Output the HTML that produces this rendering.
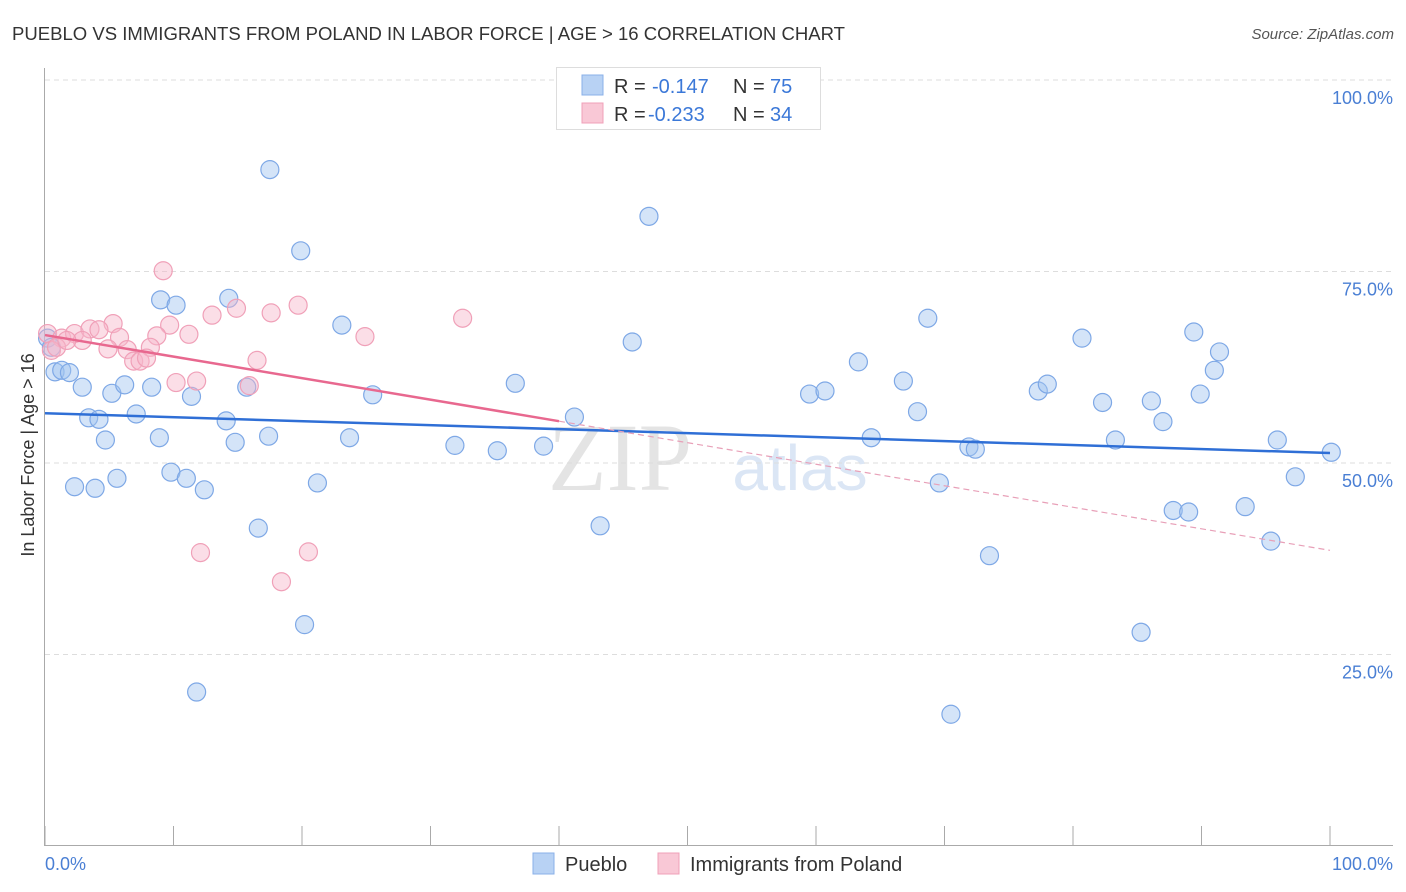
<!DOCTYPE html>
<html><head><meta charset="utf-8"><style>
body{margin:0;background:#fff;font-family:"Liberation Sans",sans-serif}
svg{display:block}
</style></head><body>
<svg id="c" width="1406" height="892" xmlns="http://www.w3.org/2000/svg">
<text x="12" y="40" font-size="18" fill="#333" textLength="833" lengthAdjust="spacingAndGlyphs">PUEBLO VS IMMIGRANTS FROM POLAND IN LABOR FORCE | AGE &gt; 16 CORRELATION CHART</text>
<text x="1394" y="39" font-size="15" fill="#555" text-anchor="end" font-style="italic">Source: ZipAtlas.com</text>
<text x="620" y="490" font-size="96" fill="#e4e4e4" font-family="Liberation Serif,serif" text-anchor="middle">ZIP</text>
<text x="800" y="490" font-size="64" fill="#dbe6f5" text-anchor="middle">atlas</text>
<g id="grid"></g><g id="axes"></g><g id="pts"></g><g id="trend"></g>
<text transform="translate(34,455) rotate(-90)" font-size="18" fill="#333" text-anchor="middle">In Labor Force | Age &gt; 16</text>
<g>
<rect x="556.5" y="67.5" width="264" height="62" fill="#fff" stroke="#ddd"/>
<rect x="582" y="75" width="21" height="20" fill="#b8d2f4" stroke="#8ab0e8"/>
<text x="614" y="93" font-size="20" fill="#333">R =</text>
<text x="652" y="93" font-size="20" fill="#3b78d8">-0.147</text>
<text x="733" y="93" font-size="20" fill="#333">N =</text>
<text x="770" y="93" font-size="20" fill="#3b78d8">75</text>
<rect x="582" y="103" width="21" height="20" fill="#f9c8d6" stroke="#f0a0b8"/>
<text x="614" y="121" font-size="20" fill="#333">R =</text>
<text x="648" y="121" font-size="20" fill="#3b78d8">-0.233</text>
<text x="733" y="121" font-size="20" fill="#333">N =</text>
<text x="770" y="121" font-size="20" fill="#3b78d8">34</text>
</g>
<g>
<rect x="533" y="853" width="21" height="21" fill="#b8d2f4" stroke="#8ab0e8"/>
<text x="565" y="871" font-size="20" fill="#333">Pueblo</text>
<rect x="658" y="853" width="21" height="21" fill="#f9c8d6" stroke="#f0a0b8"/>
<text x="690" y="871" font-size="20" fill="#333">Immigrants from Poland</text>
</g>
</svg>
<script>
const blueX=[17.5,19.9,47,8.998,10.2,14.3,23.1,68.7,45.7,80.7,89.4,91.4,63.3,0.78,1.3,1.9,23.7,2.9,5.2,6.2,8.3,11.4,15.7,25.5,36.6,59.5,60.7,66.8,77.3,78,82.3,86.1,89.9,91,3.4,4.2,7.1,14.1,41.2,67.9,87,4.7,8.9,14.8,17.4,31.9,35.2,38.8,64.3,71.9,72.4,83.3,95.9,100.1,2.3,3.9,5.6,9.8,11,12.4,21.2,69.6,97.3,16.6,43.2,87.8,89,93.4,95.4,73.5,20.2,85.3,11.8,70.5,0.2,0.5];
const blueY=[88.3,77.7,82.2,71.3,70.6,71.5,68.0,68.9,65.8,66.3,67.1,64.5,63.2,61.9,62.1,61.8,53.3,59.9,59.1,60.2,59.9,58.7,59.9,58.9,60.4,59.0,59.4,60.7,59.4,60.3,57.9,58.1,59.0,62.1,55.9,55.7,56.4,55.5,56.0,56.7,55.4,53.0,53.3,52.7,53.5,52.3,51.6,52.2,53.3,52.1,51.8,53.0,53.0,51.4,46.9,46.7,48.0,48.8,48.0,46.5,47.4,47.4,48.2,41.5,41.8,43.8,43.6,44.3,39.8,37.9,28.9,27.9,20.1,17.2,66.3,65.1];
const pinkX=[9.2,19.7,14.9,17.6,13,32.5,5.3,9.7,11.2,24.9,0.2,1.3,2.3,3.5,4.2,2.9,5.8,8.7,0.5,0.9,1.7,4.9,6.4,8.2,6.9,7.4,7.9,16.5,10.2,11.8,15.9,12.1,20.5,18.4];
const pinkY=[75.1,70.6,70.2,69.6,69.3,68.9,68.2,68.0,66.8,66.5,66.9,66.3,66.9,67.5,67.4,66.0,66.4,66.6,64.7,65.1,66.0,64.9,64.8,65.1,63.3,63.3,63.7,63.4,60.5,60.7,60.1,38.3,38.4,34.5];
const blueTrend=[56.5,51.3];
const pinkTrend=[66.7,38.6];
const pinkSolidEnd=40;
const yTicks=[25,50,75,100];
const yTickLabels=["25.0%","50.0%","75.0%","100.0%"];
const xTicks=[0,10,20,30,40,50,60,70,80,90,100];
const NS="http://www.w3.org/2000/svg";
const X=v=>45+v*12.85, Y=v=>846-v*7.66;
function mk(t,a,p){const e=document.createElementNS(NS,t);for(const k in a)e.setAttribute(k,a[k]);document.getElementById(p).appendChild(e);return e;}
yTicks.forEach((t,i)=>{
 const l=mk('line',{x1:45,x2:1393,y1:Y(t),y2:Y(t),stroke:'#ddd','stroke-dasharray':'5,4'},'grid');
 
 
 const tx=mk('text',{x:1393,y:Y(t)+24,'font-size':18,fill:'#4a7fd4','text-anchor':'end'},'axes');
 tx.textContent=yTickLabels[i];
 
 
});
const ax=mk('line',{x1:44.5,x2:44.5,y1:68,y2:846,stroke:'#aaa'},'axes');


const bx=mk('line',{x1:44,x2:1393,y1:845.5,y2:845.5,stroke:'#aaa'},'axes');


xTicks.forEach(t=>{const l=mk('line',{x1:X(t),x2:X(t),y1:826,y2:846,stroke:'#aaa'},'axes');
 
 });
const x0=mk('text',{x:45,y:870,'font-size':18,fill:'#4a7fd4'},'axes');x0.textContent='0.0%';


const x1=mk('text',{x:1393,y:870,'font-size':18,fill:'#4a7fd4','text-anchor':'end'},'axes');x1.textContent='100.0%';


blueX.forEach((v,i)=>{const c=mk('circle',{cx:X(v),cy:Y(blueY[i]),r:9,fill:'rgba(160,196,240,0.45)',stroke:'#7ea8e6','stroke-width':1.2},'pts');
 
 });
pinkX.forEach((v,i)=>{const c=mk('circle',{cx:X(v),cy:Y(pinkY[i]),r:9,fill:'rgba(246,182,202,0.45)',stroke:'#f0a0b8','stroke-width':1.2},'pts');
 
 });
const bt=mk('line',{x1:X(0),y1:Y(blueTrend[0]),x2:X(100),y2:Y(blueTrend[1]),stroke:'#2f6fd6','stroke-width':2.5},'trend');


const pm=pinkTrend[0]+(pinkTrend[1]-pinkTrend[0])*pinkSolidEnd/100;
const pt=mk('line',{x1:X(0),y1:Y(pinkTrend[0]),x2:X(pinkSolidEnd),y2:Y(pm),stroke:'#e8688f','stroke-width':2.5},'trend');


const pd=mk('line',{x1:X(pinkSolidEnd),y1:Y(pm),x2:X(100),y2:Y(pinkTrend[1]),stroke:'#e8a0b8','stroke-width':1.2,'stroke-dasharray':'6,4'},'trend');


</script>
</body></html>
